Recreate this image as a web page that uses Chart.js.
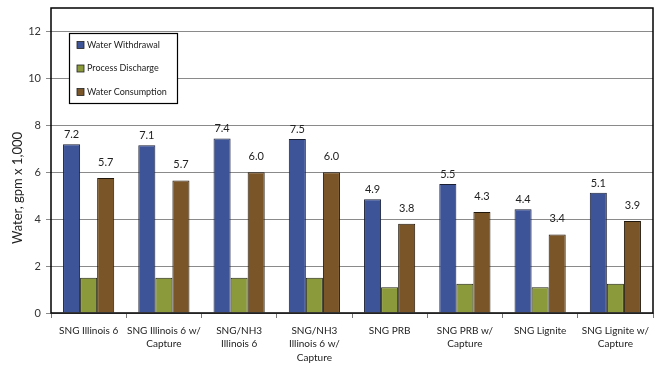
<!DOCTYPE html>
<html>
<head>
<meta charset="utf-8">
<script src="https://cdn.jsdelivr.net/npm/chart.js@4/dist/chart.umd.min.js"></script>
<style>
  html, body { margin: 0; padding: 0; background: #fff; }
</style>
</head>
<body>
<canvas id="chart" width="660" height="368"></canvas>
<script>
const categories = [
    'SNG Illinois 6', ['SNG Illinois 6 w/', 'Capture'], ['SNG/NH3', 'Illinois 6'],
    ['SNG/NH3', 'Illinois 6 w/', 'Capture'], 'SNG PRB', ['SNG PRB w/', 'Capture'],
    'SNG Lignite', ['SNG Lignite w/', 'Capture']
];
const withdrawal = [7.19, 7.15, 7.44, 7.42, 4.85, 5.5, 4.42, 5.13];
const discharge = [1.5, 1.5, 1.5, 1.5, 1.1, 1.25, 1.1, 1.25];
const consumption = [5.75, 5.65, 6.0, 6.0, 3.8, 4.3, 3.35, 3.92];
const withdrawalLabels = ['7.2', '7.1', '7.4', '7.5', '4.9', '5.5', '4.4', '5.1'];
const consumptionLabels = ['5.7', '5.7', '6.0', '6.0', '3.8', '4.3', '3.4', '3.9'];
const yTicks = [0, 2, 4, 6, 8, 10, 12];

const FONT = 'Lato';

// value labels, plot border, legend box and axis title, Excel-style
const decor = {
    id: 'decor',
    afterDatasetsDraw(chart) {
        const ctx = chart.ctx;
        ctx.save();
        ctx.font = '11px ' + FONT;
        ctx.fillStyle = '#222';
        ctx.textAlign = 'center';
        ctx.textBaseline = 'bottom';
        [[0, withdrawalLabels, 4], [2, consumptionLabels, 10]].forEach(([di, labs, off]) => {
            chart.getDatasetMeta(di).data.forEach((bar, i) => {
                ctx.fillText(labs[i], bar.x, bar.y - off);
            });
        });
        ctx.restore();
    },
    afterDraw(chart) {
        const ctx = chart.ctx, a = chart.chartArea;
        ctx.save();
        ctx.strokeStyle = '#000';
        ctx.lineWidth = 1.5;
        ctx.strokeRect(a.left, a.top, a.right - a.left, a.bottom - a.top);

        // legend
        const lx = 69, ly = 33, lw = 108, lh = 70;
        ctx.fillStyle = '#fff';
        ctx.fillRect(lx, ly, lw, lh);
        ctx.lineWidth = 1.2;
        ctx.strokeRect(lx + 0.5, ly + 0.5, lw, lh);
        ctx.font = '9px ' + FONT;
        ctx.textBaseline = 'middle';
        ctx.textAlign = 'left';
        chart.data.datasets.forEach((ds, i) => {
            const y = ly + 12 + i * 23.5;
            ctx.fillStyle = ds.backgroundColor;
            ctx.fillRect(lx + 8, y - 3.5, 7, 7);
            ctx.strokeStyle = '#222';
            ctx.lineWidth = 0.8;
            ctx.strokeRect(lx + 8, y - 3.5, 7, 7);
            ctx.fillStyle = '#222';
            ctx.fillText(ds.label, lx + 18, y);
        });

        // y title
        ctx.translate(18, 188);
        ctx.rotate(-Math.PI / 2);
        ctx.font = '13px ' + FONT;
        ctx.textAlign = 'center';
        ctx.fillStyle = '#222';
        ctx.fillText('Water, gpm x 1,000', 0, 0);
        ctx.restore();
    }
};

new Chart(document.getElementById('chart'), {
    type: 'bar',
    data: {
        labels: categories,
        datasets: [
            { label: 'Water Withdrawal', data: withdrawal, backgroundColor: '#3d5499', borderColor: '#1a1f33', borderWidth: 1 },
            { label: 'Process Discharge', data: discharge, backgroundColor: '#8b9a3b', borderColor: '#1f2310', borderWidth: 1 },
            { label: 'Water Consumption', data: consumption, backgroundColor: '#7a5528', borderColor: '#21170b', borderWidth: 1 }
        ]
    },
    options: {
        responsive: false,
        animation: false,
        layout: { padding: { top: 8, right: 7, left: 0, bottom: 0 } },
        datasets: { bar: { barPercentage: 1.0, categoryPercentage: 0.68 } },
        plugins: { legend: { display: false }, tooltip: { enabled: false } },
        scales: {
            x: {
                grid: { offset: true, drawOnChartArea: false, tickLength: 5, color: '#777' },
                border: { display: false },
                ticks: { font: { family: FONT, size: 10, lineHeight: 1.35 }, color: '#222', maxRotation: 0, autoSkip: false, padding: 6 },
                afterFit(s) { s.height = 55; s.paddingLeft = 0; s.paddingRight = 0; }
            },
            y: {
                min: 0, max: 13,
                afterBuildTicks(s) { s.ticks = yTicks.map(v => ({ value: v })); },
                grid: { color: '#8a8a8a', lineWidth: 1, tickLength: 5 },
                border: { display: false },
                ticks: { font: { family: FONT, size: 11 }, color: '#333', padding: 5 },
                afterFit(s) { s.width = 51; s.paddingTop = 0; s.paddingBottom = 0; }
            }
        }
    },
    plugins: [decor]
});
</script>
</body>
</html>
